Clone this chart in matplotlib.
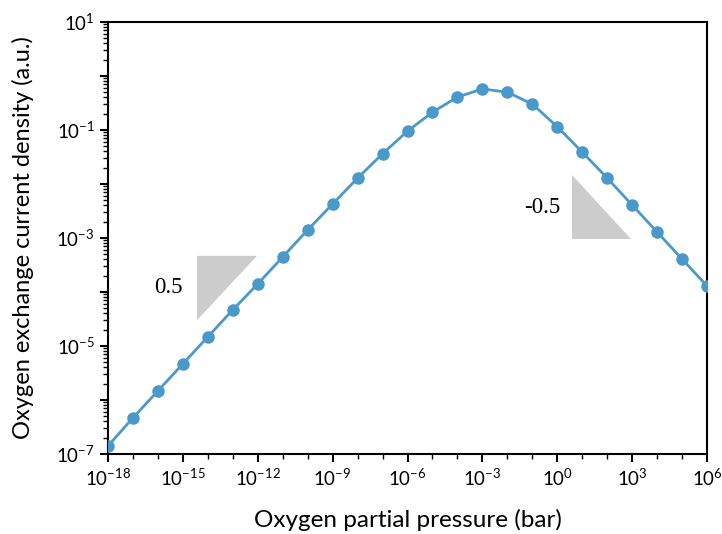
import matplotlib
matplotlib.use("Agg")
import matplotlib.pyplot as plt
from matplotlib.ticker import LogLocator, FuncFormatter, NullFormatter
from matplotlib.patches import Polygon
import numpy as np

plt.rcParams["font.family"] = ["Lato", "DejaVu Sans"]
plt.rcParams["mathtext.fontset"] = "custom"
plt.rcParams["mathtext.rm"] = "Lato"
plt.rcParams["mathtext.it"] = "Lato:italic"
plt.rcParams["mathtext.bf"] = "Lato:bold"

# Oxygen partial pressure (log10 bar) and exchange current density (log10 a.u.)
log_pressure = [-18, -17, -16, -15, -14, -13, -12, -11, -10, -9, -8, -7, -6,
                -5, -4, -3, -2, -1, 0, 1, 2, 3, 4, 5, 6]
log_current = [-6.85, -6.33, -5.83, -5.33, -4.83, -4.33, -3.85, -3.35, -2.85,
               -2.37, -1.89, -1.44, -1.02, -0.67, -0.39, -0.24, -0.30, -0.52,
               -0.94, -1.41, -1.89, -2.39, -2.89, -3.39, -3.89]

# Slope guide triangles: (log x corners, log y corners) and label
slope_tri_low = ([-14.43, -12.03, -14.43], [-3.33, -3.33, -4.52])
slope_tri_high = ([0.59, 0.59, 2.95], [-1.83, -3.02, -3.02])
slope_labels = ["0.5", "-0.5"]

p = 10.0 ** np.array(log_pressure)
j = 10.0 ** np.array(log_current)

fig = plt.figure(figsize=(7.22, 5.34), dpi=100)
ax = fig.add_axes([0.1496, 0.1498, 0.9793 - 0.1496, 0.9588 - 0.1498])

color = "#4a99cb"
ax.plot(p, j, "-o", color=color, lw=2.0, ms=8, zorder=3)

for tri in (slope_tri_low, slope_tri_high):
    xs = 10.0 ** np.array(tri[0])
    ys = 10.0 ** np.array(tri[1])
    ax.add_patch(Polygon(np.column_stack([xs, ys]), closed=True,
                         facecolor="#cccccc", edgecolor="none", zorder=2))

serif = ["Liberation Serif", "DejaVu Serif"]
ax.text(10 ** -15.0, 10 ** -3.91, slope_labels[0], fontsize=16.5, family=serif,
        ha="right", va="center")
ax.text(10 ** 0.11, 10 ** -2.43, slope_labels[1], fontsize=16.5, family=serif,
        ha="right", va="center")

ax.set_xscale("log")
ax.set_yscale("log")
ax.set_xlim(1e-18, 1e6)
ax.set_ylim(1e-7, 1e1)

ax.xaxis.set_major_locator(LogLocator(base=1000.0, numticks=20))
ax.xaxis.set_minor_locator(LogLocator(base=10.0, subs=(1.0,), numticks=40))
ax.xaxis.set_minor_formatter(NullFormatter())
ax.xaxis.set_major_formatter(FuncFormatter(
    lambda v, pos: r"$10^{%d}$" % int(round(np.log10(v)))))

ax.yaxis.set_major_locator(LogLocator(base=10.0, numticks=20))
ax.yaxis.set_minor_locator(LogLocator(base=10.0, subs=np.arange(2, 10), numticks=20))
ax.yaxis.set_minor_formatter(NullFormatter())


def ylab(v, pos):
    e = int(round(np.log10(v)))
    return r"$10^{%d}$" % e if e % 2 != 0 else ""


ax.yaxis.set_major_formatter(FuncFormatter(ylab))

for s in ax.spines.values():
    s.set_linewidth(1.5)
ax.tick_params(which="major", length=6, width=1.5, labelsize=13.5, direction="out")
ax.tick_params(which="minor", length=3.5, width=1.0, direction="out")

ax.set_xlabel("Oxygen partial pressure (bar)", fontsize=17.5, labelpad=15)
ax.set_ylabel("Oxygen exchange current density (a.u.)", fontsize=17, labelpad=16)

fig.savefig("out.png", dpi=100)
